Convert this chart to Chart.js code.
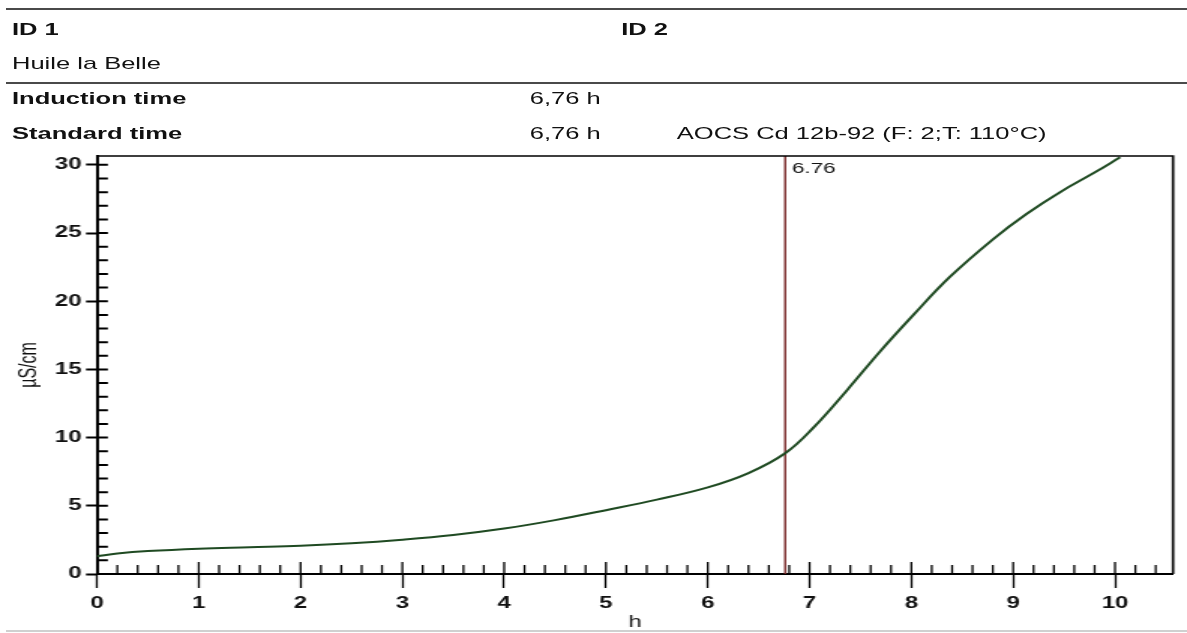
<!DOCTYPE html>
<html>
<head>
<meta charset="utf-8">
<title>Huile la Belle - Rancimat</title>
<script src="https://cdn.jsdelivr.net/npm/chart.js@4/dist/chart.umd.min.js"></script>
<style>
  html, body { margin: 0; padding: 0; background: #fff; }
  body { width: 1187px; height: 633px; overflow: hidden; position: relative; }
  /* the original print-out is stretched sideways, so the whole sheet is too */
  #page {
    position: absolute; left: 0; top: 0; width: 791px; height: 633px;
    transform: scaleX(1.5006); transform-origin: 0 0;
    font-family: "Liberation Sans", Arial, sans-serif; color: #111;
  }
  .rule { position: absolute; left: 4px; right: 0; height: 2px; background: #4a4a4a; }
  .t { position: absolute; font-size: 17px; line-height: 20px; white-space: nowrap; }
  .b { font-weight: bold; }
  #box { position: absolute; left: 0; top: 140px; width: 791px; height: 493px; }
</style>
</head>
<body>
<div id="page">
  <div class="rule" style="top:8px"></div>
  <div class="t b" style="left:8px;top:20px">ID 1</div>
  <div class="t b" style="left:414px;top:20px">ID 2</div>
  <div class="t" style="left:8px;top:54px">Huile la Belle</div>
  <div class="rule" style="top:82px"></div>
  <div class="t b" style="left:8px;top:89px">Induction time</div>
  <div class="t" style="left:353px;top:89px">6,76 h</div>
  <div class="t b" style="left:8px;top:124px">Standard time</div>
  <div class="t" style="left:353px;top:124px">6,76 h</div>
  <div class="t" style="left:451px;top:124px">AOCS Cd 12b-92 (F: 2;T: 110°C)</div>
  <div id="box"><canvas id="chart"></canvas></div>
  <div class="rule" style="top:630px;background:#d0d0d0"></div>
</div>
<script>
// conductivity curve
const hours = [0, 0.2, 0.5, 1, 1.5, 2, 2.5, 3, 3.5, 4, 4.5, 5, 5.5, 6, 6.4, 6.76,
  7.04, 7.37, 7.69, 8.02, 8.38, 8.81, 9.13, 9.46, 9.79, 10.05];
const conductivity = [1.3, 1.5, 1.68, 1.86, 1.97, 2.08, 2.26, 2.52, 2.86, 3.33, 3.95, 4.68, 5.45, 6.35, 7.4, 8.85,
  10.75, 13.5, 16.3, 19.0, 21.8, 24.6, 26.4, 28.0, 29.4, 30.55];

const inductionTime = 6.76;
const xTicks = [0, 1, 2, 3, 4, 5, 6, 7, 8, 9, 10];
const yTicks = [0, 5, 10, 15, 20, 25, 30];
const xMax = 10.57;
const yMax = 30.65;

const family = '"Liberation Sans", Arial, sans-serif';

// box, inner tick marks and the 6.76 label
const frame = {
  id: "frame",
  afterDatasetsDraw(chart) {
    const { ctx, chartArea: a, scales: { x, y } } = chart;
    ctx.save();
    ctx.strokeStyle = "#000";

    ctx.lineWidth = 1.6;
    ctx.beginPath();
    ctx.moveTo(a.left, a.top);
    ctx.lineTo(a.right, a.top);
    ctx.lineTo(a.right, a.bottom);
    ctx.stroke();

    ctx.lineWidth = 1.3;
    ctx.beginPath();
    for (let i = 1; i / 5 < xMax; i++) {
      const px = x.getPixelForValue(i / 5);
      ctx.moveTo(px, a.bottom);
      ctx.lineTo(px, a.bottom - (i % 5 === 0 ? 12 : 9));
    }
    ctx.stroke();

    ctx.lineWidth = 2;
    ctx.beginPath();
    for (let j = 1; j <= 30; j++) {
      const py = y.getPixelForValue(j);
      ctx.moveTo(a.left, py);
      ctx.lineTo(a.left + 7.3, py);
    }
    ctx.stroke();

    ctx.fillStyle = "#111";
    ctx.font = "15px " + family;
    ctx.textBaseline = "top";
    ctx.fillText(inductionTime.toFixed(2), x.getPixelForValue(inductionTime) + 4.5, a.top + 5);
    ctx.restore();
  },
};

new Chart(document.getElementById("chart"), {
  type: "line",
  data: {
    datasets: [
      {
        data: hours.map((h, i) => ({ x: h, y: conductivity[i] })),
        borderColor: "#1f4a22",
        borderWidth: 2,
        pointRadius: 0,
        tension: 0.4,
      },
      {
        data: [{ x: inductionTime, y: 0 }, { x: inductionTime, y: yMax }],
        borderColor: "#7a2a2a",
        borderWidth: 1.4,
        pointRadius: 0,
      },
    ],
  },
  options: {
    responsive: true,
    maintainAspectRatio: false,
    animation: false,
    layout: { padding: { top: 16, right: 9.3, bottom: 0, left: 0 } },
    scales: {
      x: {
        type: "linear",
        min: 0,
        max: xMax,
        afterBuildTicks: (s) => { s.ticks = xTicks.map((v) => ({ value: v })); },
        afterFit: (s) => { s.height = 59; },
        grid: { drawOnChartArea: false, tickLength: 14, tickColor: "#000", tickWidth: 1.3 },
        border: { color: "#000", width: 2 },
        ticks: {
          color: "#111",
          padding: 6,
          maxRotation: 0,
          autoSkip: false,
          font: { family, size: 16, weight: "bold" },
        },
        title: {
          display: true,
          text: "h",
          color: "#111",
          font: { family, size: 16 },
          padding: { top: 0, bottom: 1 },
        },
      },
      y: {
        min: 0,
        max: yMax,
        afterBuildTicks: (s) => { s.ticks = yTicks.map((v) => ({ value: v })); },
        afterFit: (s) => { s.width = 64.6; },
        grid: { drawOnChartArea: false, tickLength: 7.3, tickColor: "#000", tickWidth: 2 },
        border: { color: "#000", width: 2 },
        ticks: {
          color: "#111",
          padding: 3,
          font: { family, size: 16, weight: "bold" },
        },
        title: {
          display: true,
          text: "µS/cm",
          color: "#111",
          font: { family, size: 16 },
          padding: { top: 10, bottom: 0 },
        },
      },
    },
    plugins: {
      legend: { display: false },
      tooltip: { enabled: false },
    },
  },
  plugins: [frame],
});
</script>
</body>
</html>
